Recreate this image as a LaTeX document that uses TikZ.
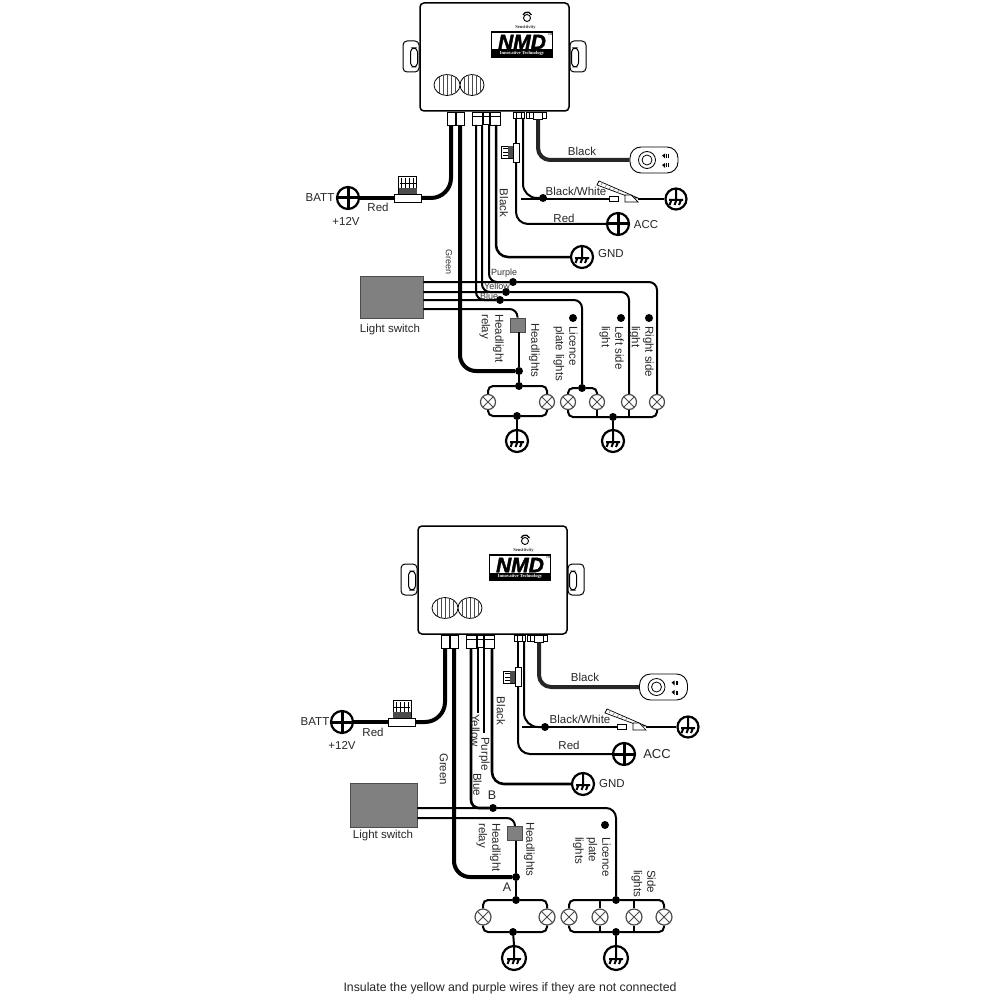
\documentclass[tikz,border=0pt]{standalone}
\usepackage{fontspec}
\setmainfont{Liberation Sans}
\newfontfamily\serf{Liberation Serif}
\newfontfamily\logof[BoldItalicFeatures={FakeBold=2}]{Liberation Sans}
\tikzset{
  wire/.style={line width=2pt,rounded corners=8pt},
  thickwire/.style={line width=4pt,rounded corners=14pt},
  fine/.style={draw,line width=.7pt,fill=white,inner sep=0},
  jdot/.style={circle,fill=black,minimum size=8pt,inner sep=0},
  lab/.style={font=\fontsize{11.5}{13.5}\selectfont,text=black!85,inner sep=0},
  vlab/.style={lab,rotate=-90,anchor=north west,align=left},
  small/.style={font=\fontsize{9}{10}\selectfont,text=black!80,inner sep=0},
  plussym/.style={circle,draw,line width=2.2pt,fill=white,minimum size=22pt,inner sep=0,
    path picture={\draw[line width=3pt] (path picture bounding box.north)--(path picture bounding box.south)
       (path picture bounding box.west)--(path picture bounding box.east);}},
  gndsym/.style={circle,draw,line width=2.2pt,fill=white,minimum size=22pt,inner sep=0,
    path picture={\draw[shift={(path picture bounding box.center)},line width=2pt]
      (0,-11)--(0,1) (-7,1)--(7,1) (-4.5,1)--(-6.5,6) (0.5,1)--(-1.5,6) (5,1)--(3,6);}},
  lampsym/.style={circle,draw=black!70,line width=1.2pt,fill=white,minimum size=15pt,inner sep=0,
    path picture={\draw[black!70,line width=1pt]
      (path picture bounding box.north west)--(path picture bounding box.south east)
      (path picture bounding box.north east)--(path picture bounding box.south west);}},
  greybox/.style={draw=black!70,line width=.8pt,fill=black!50,inner sep=0},
  module/.pic={
    \node[draw,line width=1pt,rounded corners=4pt,minimum width=16pt,minimum height=31pt,fill=white,inner sep=0] (tl) at (411,56.5) {};
    \node[draw,line width=1pt,rounded corners=4pt,minimum width=7pt,minimum height=19pt,inner sep=0] (sl) at (414,57.5) {};
    \node[draw,line width=1pt,rounded corners=4pt,minimum width=16pt,minimum height=31pt,fill=white,inner sep=0] (tr) at (578,56.5) {};
    \node[draw,line width=1pt,rounded corners=4pt,minimum width=7pt,minimum height=19pt,inner sep=0] (sr) at (575,57.5) {};
    \node[draw,line width=1.5pt,rounded corners=4pt,fill=white,minimum width=149pt,minimum height=108pt,inner sep=0] (box) at (494.5,57) {};
    \draw[line width=.8pt] (447,85) ellipse [x radius=13,y radius=10.5] (472,85) ellipse [x radius=12,y radius=10.5];
    \foreach \cx/\rx in {447/13,472/12}
      \foreach \dx in {-8,-4,0,4,8} {
        \pgfmathsetmacro\hh{10.5*sqrt(1-(\dx/\rx)^2)}
        \draw[line width=.4pt,black!70] (\cx+\dx,85-\hh)--(\cx+\dx,85+\hh);
      };
    \node[draw,line width=1.6pt,minimum width=61pt,minimum height=25pt,fill=white,inner sep=0] (logo) at (522,44.5) {};
    \fill (491,49.5) rectangle (553,57);
    \node[font=\logof\fontsize{21}{21}\bfseries\itshape\selectfont,inner sep=0,text height=14.5pt,text depth=0pt] at (522,42) {NMD};
    \node[font=\fontsize{4.6}{5}\serf\bfseries\selectfont,text=white,inner sep=0] at (522,53.5) {Innovative Technology};
    \node[font=\fontsize{3.5}{4}\selectfont,inner sep=0] at (550,34.5) {TM};
    \draw[line width=.9pt] (527,18) circle [radius=3.5];
    \draw[line width=1.3pt] (523,15) arc [start angle=200,end angle=340,radius=4.5];
    \node[font=\fontsize{4.6}{5}\serf\bfseries\selectfont,text=black!80,inner sep=0] at (525.5,27.5) {Sensitivity};
  },
  leftbank/.pic={
    \node[fine,minimum width=8pt,minimum height=13pt] (a) at (451,118.5) {};
    \node[fine,minimum width=8pt,minimum height=13pt] (b) at (460,118.5) {};
    \node[fine,minimum width=10pt,minimum height=13pt] (c) at (477,118.5) {};
    \node[fine,minimum width=6pt,minimum height=12pt] (d) at (486,118) {};
    \node[fine,minimum width=10pt,minimum height=13pt] (e) at (495,118.5) {};
    \draw[line width=.8pt] (472,116.5)--(500,116.5);
  },
  rightbank/.pic={
    \node[fine,minimum width=11pt,minimum height=6pt] (a) at (518.5,115) {};
    \node[fine,minimum width=20pt,minimum height=6pt] (b) at (536,115) {};
    \node[fine,minimum width=9pt,minimum height=7pt] (c) at (538,115.5) {};
    \draw[line width=.5pt] (516,112)--(516,118) (521,112)--(521,118) (529,112)--(529,118);
  },
  sensorunit/.pic={
    \node[draw,line width=.9pt,fill=white,rounded corners=11pt,minimum width=48pt,minimum height=26pt,inner sep=0] (body) at (0,0) {};
    \draw[line width=.8pt] (-7,0) circle [radius=8.5] (-7,0) circle [radius=5];
    \fill (8,-4.5) -- (11,-6.5) -- (11,-1.5) -- cycle (8,5) -- (11,3) -- (11,8) -- cycle;
    \draw[line width=.4pt] (12.5,-6)--(12.5,-2) (14,-6)--(14,-2) (12.5,3.5)--(12.5,7.5) (14,3.5)--(14,7.5);
  },
  fuseh/.pic={
    \draw[line width=.9pt,fill=white] (-9,-19)--(9,-19)--(9,0)--(-9,0)--cycle;
    \draw[line width=.7pt] (-6,-17)--(-6,-7) (-2,-17)--(-2,-7) (2,-17)--(2,-7) (6,-17)--(6,-7) (-8,-12)--(8,-12);
    \fill[black!70] (-9,-7) rectangle (9,-1);
    \node[fine,minimum width=27pt,minimum height=8pt] (body) at (0,3) {};
  },
  fusev/.pic={
    \draw[line width=.9pt,fill=white] (-15,-6)--(-3,-6)--(-3,6)--(-15,6)--cycle;
    \draw[line width=.7pt] (-13,-4)--(-6,-4) (-13,0)--(-6,0) (-13,3)--(-6,3) (-8,-6)--(-8,6);
    \fill[black!70] (-8,-6) rectangle (-3,6);
    \node[fine,minimum width=6pt,minimum height=19pt] (body) at (0,0) {};
  },
  clipunit/.pic={
    \draw[line width=.7pt,fill=white] (-29,-14)--(-27,-18)--(12,-1)--(6,-1)--cycle;
    \draw[line width=.5pt,black!60] (-25,-14)--(-23,-17) (-21,-12)--(-19,-15) (-17,-10)--(-15,-13) (-13,-8)--(-11,-11) (-9,-6)--(-7,-9);
    \node[fine,minimum width=9pt,minimum height=5pt] (a) at (-12.5,0) {};
    \draw[line width=.7pt,fill=white] (-1,3)--(-1,-4)--(5,-4)--(12,3)--cycle;
    \coordinate (b) at (12,0);
  }
}
\begin{document}
\begin{tikzpicture}[x=1pt,y=-1pt]
\useasboundingbox (0,0) rectangle (1000,1000);

%%%%%% TOP DIAGRAM
\pic (mA) at (0,0) {module};
\pic (lA) at (0,0) {leftbank};
\pic (rA) at (0,0) {rightbank};
\pic (senA) at (654,160) {sensorunit};
\pic (fbA) at (407.5,195) {fuseh};
\pic (fvA) at (516,152.5) {fusev};
\pic (clA) at (626,199) {clipunit};

\node[plussym] (battA) at (348,198) {};
\node[plussym] (accA) at (618,224) {};
\node[gndsym] (gndA) at (582,257) {};
\node[gndsym,minimum size=21pt] (clipgA) at (676,199) {};
\node[gndsym] (g1A) at (517,441) {};
\node[gndsym] (g2A) at (613,441) {};
\node[greybox,minimum width=63pt,minimum height=42pt] (swA) at (391.5,297) {};
\node[greybox,minimum width=15pt,minimum height=14pt] (relA) at (517.5,325) {};
\foreach \n/\x in {1/488,2/547,3/568,4/597,5/629,6/657}
  \node[lampsym] (lA\n) at (\x,402) {};
\node[jdot] (dpA) at (513,282) {};
\node[jdot] (dyA) at (506,292) {};
\node[jdot] (dbA) at (500,300) {};
\node[jdot] (dhA) at (519,371) {};
\node[jdot] (dtlA) at (519,386) {};
\node[jdot] (dblA) at (517,416) {};
\node[jdot] (dtrA) at (582,388) {};
\node[jdot] (dbrA) at (613,417) {};
\node[jdot] (dbwA) at (543,198) {};
\node[jdot] at (573,318) (s1A) {};
\node[jdot] at (621,318) (s2A) {};
\node[jdot] at (649,318) (s3A) {};
\coordinate (bwsA) at (521,199);
\coordinate (wa) at (476,125);
\coordinate (wb) at (482,125);
\coordinate (wc) at (489,125);
\coordinate (wd) at (496,125);

\draw[thickwire,rounded corners=20pt] (lAa.south) |- (fbAbody.east);
\draw[thickwire] (fbAbody.west) -- (battA.east);
\draw[thickwire,rounded corners=16pt] (lAb.south) |- (dhA);
\draw[wire] (wa) |- (dbA);
\draw[wire] (wb) |- (dyA);
\draw[wire] (wc) |- (dpA);
\draw[wire,line width=2.5pt,rounded corners=12pt] (wd) |- (gndA.west);
\draw[wire] (swA.east |- dpA) -- (dpA) -| (lA6.north);
\draw[wire] (swA.east |- dyA) -- (dyA) -| (lA5.north);
\draw[wire] (swA.east |- dbA) -- (dbA) -| (dtrA);
\draw[wire] (swA.east |- 0,309) -| (relA.north);
\draw[wire] (relA.south -| dhA) -- (dhA) -- (dtlA);
\draw[wire,rounded corners=5pt] (lA1.north) |- (dtlA) -| (lA2.north);
\draw[wire,rounded corners=5pt] (lA1.south) |- (dblA) -| (lA2.south);
\draw[wire] (dblA) -- (g1A.north);
\draw[wire,rounded corners=5pt] (lA3.north) |- (dtrA) -| (lA4.north);
\draw[wire,rounded corners=5pt] (lA3.south) |- (dbrA) -| (lA6.south);
\draw[wire,rounded corners=0pt] (lA4.south) -- (lA4.south |- dbrA) (lA5.south) -- (lA5.south |- dbrA);
\draw[wire] (dbrA) -- (g2A.north);
\draw[thickwire,black!85,rounded corners=12pt] (rAc.south) |- (senAbody.west);
\draw[wire] (rAa.south -| fvAbody.north) -- (fvAbody.north);
\draw[wire,rounded corners=12pt] (fvAbody.south) |- (accA.west);
\draw[wire,rounded corners=14pt] (523,118) |- (dbwA);
\draw[wire] (bwsA) -- (clAa.west);
\draw[wire] (clAb) -- (clipgA.west);

\node[lab] at (320,198) {BATT};
\node[lab] at (346,221) {+12V};
\node[lab] at (378,207) {Red};
\node[lab] at (582,151) {Black};
\node[lab] at (576,191) {Black/White};
\node[lab] at (564,218) {Red};
\node[lab] at (646,225) {ACC};
\node[lab] at (611,254) {GND};
\node[lab,rotate=-90] at (504,203) {Black};
\node[small,rotate=-90] at (449,262) {Green};
\node[small] at (504,273) {Purple};
\node[small] at (497,286) {Yellow};
\node[small] at (489,296) {Blue};
\node[lab] at (390,330) {Light switch};
\node[vlab] at (504,314) {Headlight\\relay};
\node[vlab] at (540,323) {Headlights};
\node[vlab] at (578,326) {Licence\\plate lights};
\node[vlab] at (624,326) {Left side\\light};
\node[vlab] at (654,326) {Right side\\light};

%%%%%% BOTTOM DIAGRAM
\pic (mB) at (-2,523) {module};
\pic (lB) at (-6,523) {leftbank};
\pic (rB) at (1,523) {rightbank};
\pic (senB) at (663.5,687) {sensorunit};
\pic (fbB) at (402,719) {fuseh};
\pic (fvB) at (518,677) {fusev};
\pic (clB) at (634,727) {clipunit};

\node[plussym] (battB) at (342,722) {};
\node[plussym] (accB) at (624,754) {};
\node[gndsym] (gndB) at (583,784) {};
\node[gndsym,minimum size=21pt] (clipgB) at (688,727) {};
\node[gndsym,minimum size=24pt] (g1B) at (514,958) {};
\node[gndsym,minimum size=24pt] (g2B) at (616,958) {};
\node[greybox,minimum width=67pt,minimum height=44pt] (swB) at (383.5,805) {};
\node[greybox,minimum width=15pt,minimum height=14pt] (relB) at (515,833.5) {};
\foreach \n/\x in {1/483,2/547,3/569,4/600,5/634,6/664}
  \node[lampsym,minimum size=16pt] (lB\n) at (\x,917) {};
\node[jdot] (dBB) at (493,808) {};
\node[jdot] (dhB) at (516,877) {};
\node[jdot] (dtlB) at (516,900) {};
\node[jdot] (dblB) at (513,932) {};
\node[jdot] (dtrB) at (616,900) {};
\node[jdot] (dbrB) at (616,932) {};
\node[jdot] (dbwB) at (545,727) {};
\node[jdot] (s1B) at (605,825) {};
\coordinate (bwsB) at (522,727);
\coordinate (wB1) at (471,648);
\coordinate (wB2) at (478,648);
\coordinate (wB3) at (484,648);
\coordinate (wB4) at (492,648);
\coordinate (wB2e) at (478,713);
\coordinate (wB3e) at (484,733);

\draw[thickwire,rounded corners=20pt] (lBa.south) |- (fbBbody.east);
\draw[thickwire] (fbBbody.west) -- (battB.east);
\draw[thickwire,rounded corners=16pt] (lBb.south) |- (dhB);
\draw[wire,line width=2.6pt] (wB1) |- (dBB);
\draw[wire] (wB2) -- (wB2e);
\draw[wire] (wB3) -- (wB3e);
\draw[wire,line width=2.6pt,rounded corners=12pt] (wB4) |- (gndB.west);
\draw[wire,rounded corners=10pt] (swB.east |- dBB) -- (dBB) -| (dtrB);
\draw[wire] (swB.east |- 0,818) -| (relB.north);
\draw[wire] (relB.south -| dhB) -- (dhB) -- (dtlB);
\draw[wire,rounded corners=5pt] (lB1.north) |- (dtlB) -| (lB2.north);
\draw[wire,rounded corners=5pt] (lB1.south) |- (dblB) -| (lB2.south);
\draw[wire] (dblB) -- (g1B.north);
\draw[wire,rounded corners=5pt] (lB3.north) |- (dtrB) -| (lB6.north);
\draw[wire,rounded corners=5pt] (lB3.south) |- (dbrB) -| (lB6.south);
\draw[wire,rounded corners=0pt] (lB4.north) -- (lB4.north |- dtrB) (lB5.north) -- (lB5.north |- dtrB)
   (lB4.south) -- (lB4.south |- dbrB) (lB5.south) -- (lB5.south |- dbrB);
\draw[wire] (dbrB) -- (g2B.north);
\draw[thickwire,black!85,rounded corners=12pt] (rBc.south) |- (senBbody.west);
\draw[wire] (rBa.south -| fvBbody.north) -- (fvBbody.north);
\draw[wire,rounded corners=12pt] (fvBbody.south) |- (accB.west);
\draw[wire,rounded corners=14pt] (524,641) |- (dbwB);
\draw[wire] (bwsB) -- (clBa.west);
\draw[wire] (clBb) -- (clipgB.west);

\node[lab] at (315,722) {BATT};
\node[lab] at (342,745) {+12V};
\node[lab] at (373,732) {Red};
\node[lab] at (585,677) {Black};
\node[lab] at (580,719) {Black/White};
\node[lab] at (569,745) {Red};
\node[lab,font=\fontsize{13}{14}\selectfont] at (657,754) {ACC};
\node[lab] at (612,784) {GND};
\node[lab,rotate=-90] at (501,711) {Black};
\node[vlab] at (448,753) {Green};
\node[vlab] at (480,714) {Yellow};
\node[vlab] at (490,737) {Purple};
\node[vlab] at (482,773) {Blue};
\node[lab,font=\fontsize{12.5}{13}\selectfont] at (492,795) {B};
\node[lab,font=\fontsize{12.5}{13}\selectfont] at (507,887) {A};
\node[lab] at (383,836) {Light switch};
\node[vlab] at (501,823) {Headlight\\relay};
\node[vlab] at (535,822) {Headlights};
\node[vlab] at (611,837) {Licence\\plate\\lights};
\node[vlab] at (656,870) {Side\\lights};
\node[lab,font=\fontsize{12.3}{14}\selectfont] at (510,988) {Insulate the yellow and purple wires if they are not connected};
\end{tikzpicture}
\end{document}
